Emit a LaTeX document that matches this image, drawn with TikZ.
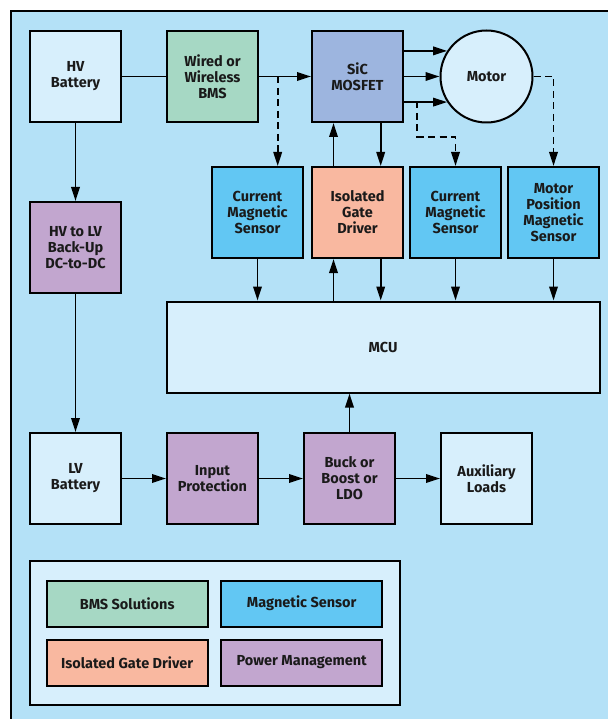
\documentclass[tikz,border=0pt]{standalone}
\usepackage{fontspec}
\setmainfont{Fira Sans}
\usetikzlibrary{arrows.meta,calc}
\definecolor{bgblue}{HTML}{B4E1F7}
\definecolor{lightb}{HTML}{D7EFFC}
\definecolor{bmsg}{HTML}{A6D8C4}
\definecolor{mosb}{HTML}{9DB5DF}
\definecolor{magb}{HTML}{62C7F3}
\definecolor{igdo}{HTML}{F9B8A0}
\definecolor{pwrp}{HTML}{C2A6CF}
\definecolor{txt}{HTML}{1A1A1A}
\tikzset{
  box/.style={draw=black, line width=2pt, minimum width=91pt, minimum height=91pt,
    inner sep=1pt, align=center, text=txt,
    font=\fontsize{14.5}{16}\selectfont\bfseries},
  legbox/.style={draw=black, line width=2pt, minimum width=161pt, minimum height=46pt,
    inner sep=1pt, align=center, text=txt,
    font=\fontsize{14.5}{16}\selectfont\bfseries},
  arr/.style={line width=1.9pt, -{Triangle[length=14pt,width=8.5pt]}},
  dasharr/.style={line width=1.9pt, dash pattern=on 7pt off 4.5pt, -{Triangle[length=14pt,width=8.5pt]}},
  plain/.style={line width=1.9pt}
}
\begin{document}
\begin{tikzpicture}[x=1pt,y=-1pt]
\useasboundingbox (0,0) rectangle (607,719);
\fill[white] (0,0) rectangle (607,719);
\draw[line width=2pt, fill=bgblue] (11,11) rectangle (640,740);

% top row
\node[box, fill=lightb] (hv) at (75.5,76.5) {HV\\Battery};
\node[box, fill=bmsg] (bms) at (212.5,76.5) {Wired or\\Wireless\\BMS};
\node[box, fill=mosb] (mos) at (357.5,76.5) {SiC\\MOSFET};
\node[draw=black, line width=2pt, circle, minimum size=92pt, fill=lightb, text=txt,
  font=\fontsize{14.5}{16}\selectfont\bfseries] (motor) at (486.5,76.5) {Motor};

% second row
\node[box, fill=magb] (cms1) at (257.5,212.5) {Current\\Magnetic\\Sensor};
\node[box, fill=igdo] (igd) at (357.5,212.5) {Isolated\\Gate\\Driver};
\node[box, fill=magb] (cms2) at (455.5,212.5) {Current\\Magnetic\\Sensor};
\node[box, fill=magb] (mpms) at (553.5,212.5) {Motor\\Position\\Magnetic\\Sensor};

\node[box, fill=pwrp] (hvlv) at (75.5,247.5) {HV to LV\\Back-Up\\DC-to-DC};

\node[box, fill=lightb, minimum width=433pt] (mcu) at (383,347) {MCU};

% bottom row
\node[box, fill=lightb] (lv) at (75.5,478.5) {LV\\Battery};
\node[box, fill=pwrp] (ip) at (212.5,478.5) {Input\\Protection};
\node[box, fill=pwrp] (buck) at (349.5,478.5) {Buck or\\Boost or\\LDO};
\node[box, fill=lightb] (aux) at (486.5,478.5) {Auxiliary\\Loads};

% legend
\node[draw=black, line width=2pt, fill=lightb, minimum width=370pt, minimum height=144pt] (leg) at (214.5,633.3) {};
\node[legbox, fill=bmsg] (l1) at (127.2,603.7) {BMS Solutions};
\node[legbox, fill=magb] (l2) at (301.7,603.7) {Magnetic Sensor};
\node[legbox, fill=igdo] (l3) at (127.2,662.5) {Isolated Gate Driver};
\node[legbox, fill=pwrp] (l4) at (301.7,662.5) {Power Management};

% connectors top
\draw[plain] (hv.east) -- (bms.west);
\draw[arr] (bms.east) -- (mos.west);
\coordinate (d1) at (277.7,76.5);
\draw[dasharr] (d1) -- (d1 |- cms1.north);

\draw[arr] (mos.east |- motor.147) -- (motor.147);
\draw[arr] (mos.east) -- (motor.west);
\draw[arr] (mos.east |- motor.213) -- (motor.213);

\coordinate (d2) at (417.3,101.5);
\coordinate (d2b) at (417.3,136.7);
\draw[dasharr] (d2) -- (d2b) -| (cms2.north);
\draw[dasharr] (motor.east) -| (mpms.north);

\draw[arr] ([xshift=-24pt]igd.north) -- ([xshift=-24pt]mos.south);
\draw[arr] ([xshift=23.2pt]mos.south) -- ([xshift=23.2pt]igd.north);

% to MCU
\draw[arr] (cms1.south) -- (cms1.south |- mcu.north);
\draw[arr] ([xshift=-24pt]igd.south |- mcu.north) -- ([xshift=-24pt]igd.south);
\draw[arr] ([xshift=23.2pt]igd.south) -- ([xshift=23.2pt]igd.south |- mcu.north);
\draw[arr] (cms2.south) -- (cms2.south |- mcu.north);
\draw[arr] (mpms.south) -- (mpms.south |- mcu.north);

% left column
\draw[arr] (hv.south) -- (hvlv.north);
\draw[arr] (hvlv.south) -- (lv.north);

% bottom row
\draw[arr] (lv.east) -- (ip.west);
\draw[arr] (ip.east) -- (buck.west);
\draw[arr] (buck.east) -- (aux.west);
\draw[arr] (buck.north) -- (buck.north |- mcu.south);
\end{tikzpicture}
\end{document}
